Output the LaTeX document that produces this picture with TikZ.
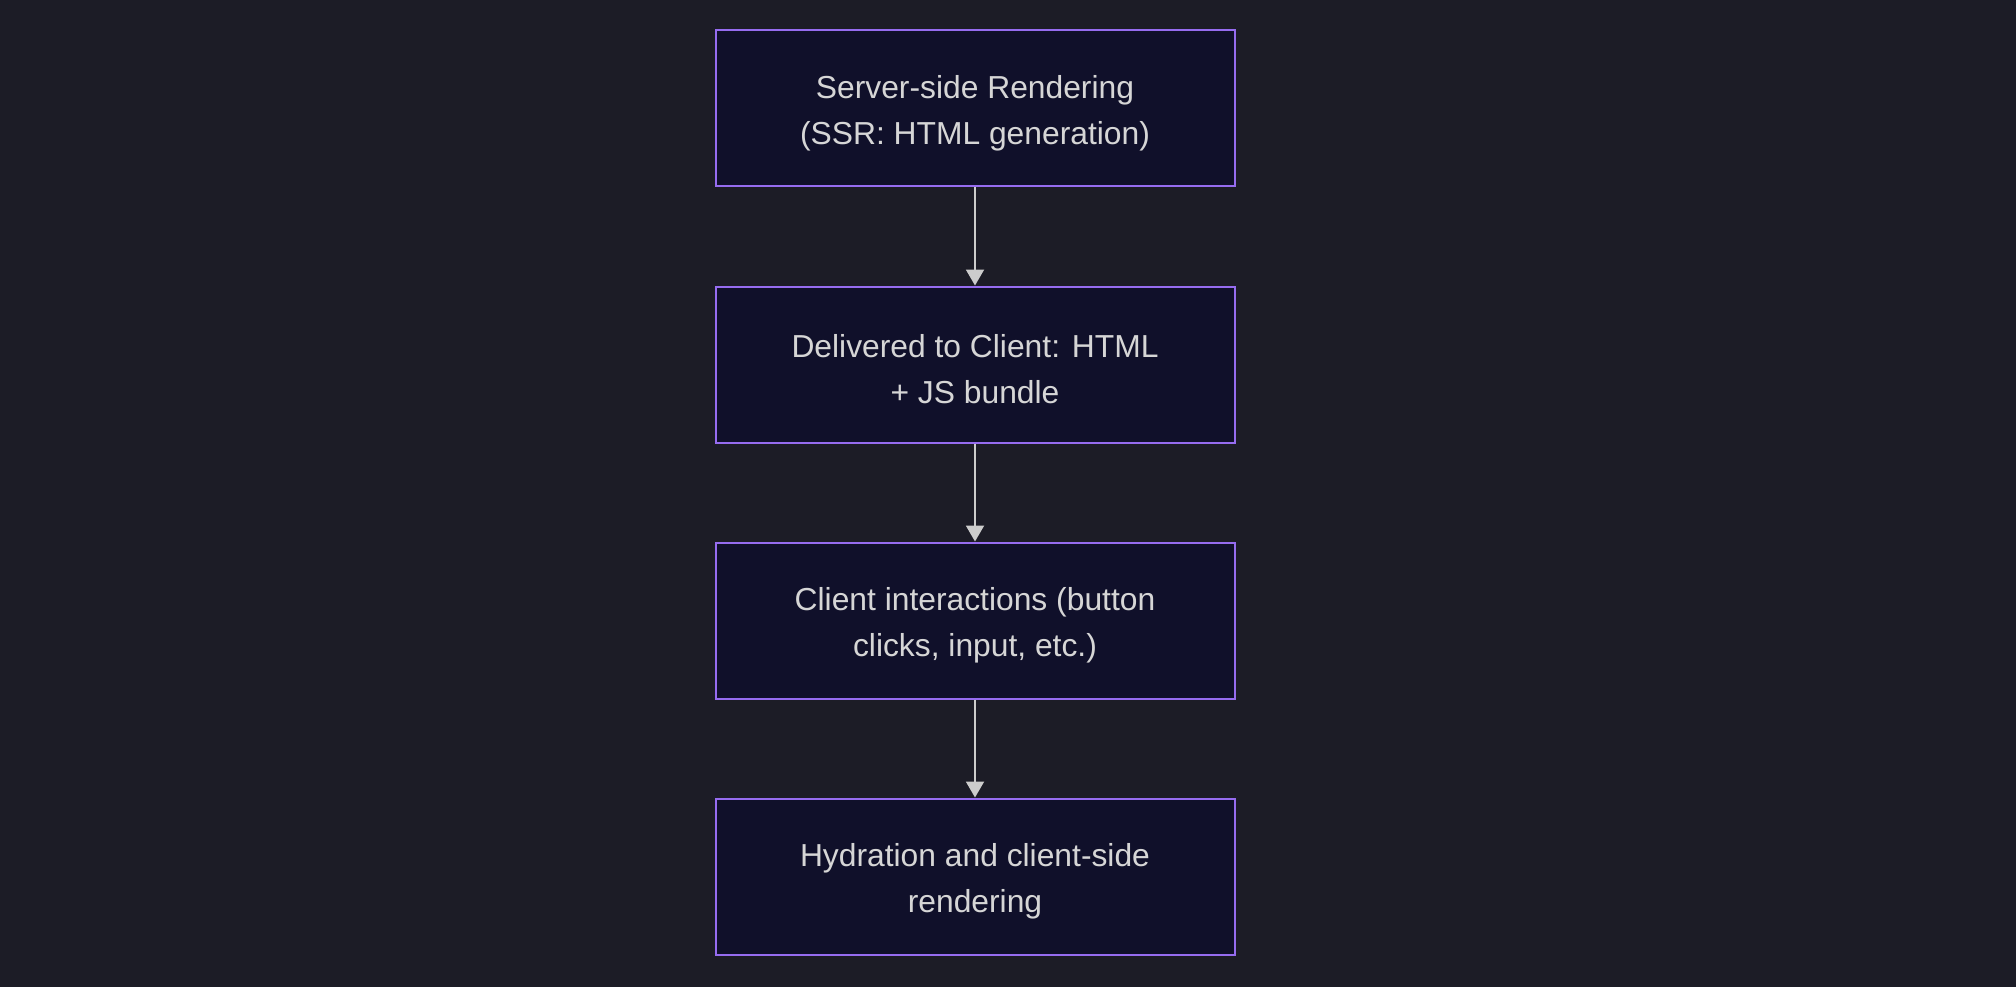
\documentclass[tikz,border=0pt]{standalone}
\usepackage{fontspec}
\setmainfont{Liberation Sans}
\usetikzlibrary{arrows.meta}
\definecolor{bgc}{RGB}{28,28,38}
\definecolor{boxfill}{RGB}{16,16,42}
\definecolor{boxline}{RGB}{150,108,240}
\definecolor{txt}{RGB}{214,214,214}
\definecolor{arr}{RGB}{204,204,204}
\tikzset{
  stepbox/.style={draw=boxline, fill=boxfill, line width=2pt,
    minimum width=519pt, minimum height=156pt, inner sep=0pt},
  steptext/.style={text=txt, align=center, inner sep=0pt, yshift=-5pt,
    font=\fontsize{31.8}{46}\selectfont},
  flowarrow/.style={draw=arr, line width=2pt,
    -{Triangle[length=16pt,width=18pt]}}
}
\begin{document}
\begin{tikzpicture}[x=1pt,y=-1pt]
\useasboundingbox (0,0) rectangle (2016,986);
\fill[bgc] (-10,-10) rectangle (2026,996);
\node[stepbox, label={[steptext]center:{Server-side Rendering\\(SSR: HTML generation)}}] (a) at (975,108) {};
\node[stepbox, label={[steptext]center:{Delivered to Client: HTML\\+ JS bundle}}] (b) at (975,364.5) {};
\node[stepbox, label={[steptext]center:{Client interactions (button\\clicks, input, etc.)}}] (c) at (975,620.5) {};
\node[stepbox, label={[steptext]center:{Hydration and client-side\\rendering}}] (d) at (975,876.5) {};
\draw[flowarrow] (a.south) -- (b.north);
\draw[flowarrow] (b.south) -- (c.north);
\draw[flowarrow] (c.south) -- (d.north);
\end{tikzpicture}
\end{document}
